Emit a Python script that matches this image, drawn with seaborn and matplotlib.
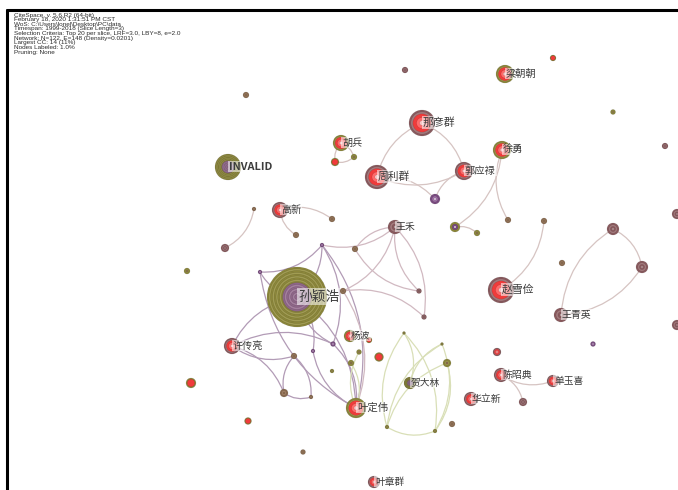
import numpy as np
import pandas as pd
import matplotlib
matplotlib.use("Agg")
import matplotlib.pyplot as plt
import seaborn as sns

# node table: label, position in the CiteSpace canvas, node radius, ring class
node_labels = ["梁朝朝", "那彦群", "胡兵", "INVALID", "周利群", "郭应禄", "徐勇", "高新",
               "王禾", "孙颖浩", "杨波", "许传亮", "贺大林", "叶定伟", "华立新", "陈昭典",
               "单玉喜", "王青英", "赵雪俭", "叶章群"] + [""] * 50
node_x = [505, 422, 341, 228, 377, 464, 502, 280, 395, 297, 350, 232, 410, 356, 471, 501,
          553, 561, 501, 374,
          405, 553, 613, 665, 246, 335, 354, 435, 254, 332, 296, 225, 187, 455, 477, 508,
          544, 613, 642, 562, 677, 677, 497, 593, 523, 447, 322, 260, 355, 343, 419, 424,
          369, 379, 359, 351, 333, 313, 294, 332, 284, 311, 191, 248, 303, 452, 387, 435,
          404, 442]
node_y = [74, 123, 143, 167, 177, 171, 150, 210, 227, 297, 336, 346, 383, 408, 399, 375,
          381, 315, 290, 482,
          70, 58, 112, 146, 95, 162, 157, 199, 209, 219, 235, 248, 271, 227, 233, 220,
          221, 229, 267, 263, 214, 325, 352, 344, 402, 363, 245, 272, 249, 291, 291, 317,
          340, 357, 352, 363, 344, 351, 356, 371, 393, 397, 383, 421, 452, 424, 427, 431,
          333, 344]
node_r = [9, 13, 8, 13, 12, 9, 9, 8, 7, 30, 6, 8, 6, 10, 7, 7, 6, 7, 13, 6,
          3, 3, 2.5, 3, 3, 4, 3, 5, 2, 3, 3, 4, 3, 5, 3, 3,
          3, 6, 6, 3, 5, 5, 4, 2.5, 4, 4, 2, 2, 3, 3, 2.5, 2.5,
          3, 4.5, 2.5, 3, 2.5, 2, 3, 2, 4, 2, 5, 3.5, 2.5, 3, 2, 2,
          1.5, 1.5]
node_ring = ["OR", "MR", "OR", "OM", "MR", "MR", "OR", "MR", "M", "OM", "OR", "MR", "OM",
             "OR", "MR", "MR", "MR", "M", "MR", "MR",
             "M", "R", "O", "M", "B", "R", "O", "P", "B", "B", "B", "M", "O", "OP", "O", "B",
             "B", "M", "M", "B", "M", "M", "MR", "P", "M", "O", "P", "P", "B", "B", "M", "M",
             "R", "R", "O", "O", "P", "P", "B", "O", "B", "B", "R", "R", "B", "B", "O", "O",
             "O", "O"]

# co-authorship links (node index pairs) and the cluster they belong to
edge_src = [1, 1, 4, 4, 5, 6, 6, 33, 2, 2, 25, 7, 7, 28, 18, 17, 17, 37, 15, 15,
            9, 9, 47, 9, 9, 9, 9, 46, 47, 46, 11, 11, 58, 58, 60, 11, 57, 56,
            8, 8, 8, 8, 48, 49, 46, 49,
            12, 12, 45, 45, 68, 69, 66, 68, 69, 13, 13]
edge_dst = [4, 5, 5, 27, 27, 33, 35, 34, 25, 26, 26, 29, 30, 31, 36, 37, 38, 38, 16, 44,
            46, 47, 46, 13, 11, 57, 56, 56, 13, 13, 58, 56, 60, 61, 61, 60, 13, 13,
            48, 49, 50, 51, 50, 51, 8, 13,
            68, 69, 66, 67, 66, 67, 67, 67, 66, 54, 55]
edge_group = ["b"] * 20 + ["p"] * 18 + ["m"] * 8 + ["g"] * 11

header_lines = [
    "CiteSpace, v. 5.6.R2 (64-bit)",
    "February 18, 2020 1:31:51 PM CST",
    "WoS: C:\\Users\\lonel\\Desktop\\PC\\data",
    "Timespan: 1999-2018 (Slice Length=3)",
    "Selection Criteria: Top 20 per slice, LRF=3.0, LBY=8, e=2.0",
    "Network: N=122, E=148 (Density=0.0201)",
    "Largest CC: 14 (11%)",
    "Nodes Labeled: 1.0%",
    "Pruning: None",
]

olive, olive2 = "#8C873A", "#A19C52"
mauve, mauve2 = "#8A5A5E", "#A2787B"
brown, brown2 = "#8B6B4F", "#AA886B"
red, red2, pink = "#F03B3B", "#FF6A6A", "#F8C4C4"
purple, purple2 = "#7A4B80", "#9D70A3"

ring_styles = {
    "OR": [(1.0, olive), (0.86, olive2), (0.74, red), (0.45, red2), (0.2, pink)],
    "MR": [(1.0, mauve), (0.86, mauve2), (0.7, red), (0.42, red2), (0.18, pink)],
    "M": [(1.0, mauve), (0.72, mauve2), (0.42, mauve), (0.12, "#F2E6E6")],
    "O": [(1.0, olive), (0.6, olive2), (0.3, brown)],
    "B": [(1.0, brown), (0.6, brown2), (0.3, brown)],
    "P": [(1.0, purple), (0.6, purple2), (0.2, "#F0E6F0")],
    "R": [(1.0, olive), (0.75, red)],
    "OP": [(1.0, olive), (0.6, purple), (0.2, "#F0E6F0")],
    "OM": [(f, olive if k % 2 == 0 else olive2) for k, f in enumerate(np.linspace(1.0, 0.52, 9))]
          + [(f, "#8E6688" if k % 2 == 0 else "#A47E9E") for k, f in enumerate(np.linspace(0.48, 0.08, 7))],
}
edge_colors = {"b": "#D6C4C2", "p": "#B29BB6", "m": "#D1B9C1", "g": "#D9DFB7"}

sns.set_theme(style="white")
plt.rcParams["font.family"] = ["Noto Sans CJK SC", "DejaVu Sans"]

W, H = 678, 490
fig = plt.figure(figsize=(W / 100, H / 100), dpi=100)
fig.patch.set_facecolor("white")
ax = fig.add_axes([0, 0, 1, 1])
ax.set_xlim(0, W)
ax.set_ylim(H, 0)
ax.axis("off")

# links as gentle arcs
for i, (a, b, g) in enumerate(zip(edge_src, edge_dst, edge_group)):
    rad = 0.25 if i % 2 == 0 else -0.25
    ax.annotate("", xy=(node_x[b], node_y[b]), xytext=(node_x[a], node_y[a]),
                arrowprops=dict(arrowstyle="-", color=edge_colors[g], lw=0.9,
                                connectionstyle=f"arc3,rad={rad}", shrinkA=0, shrinkB=0),
                zorder=1)

# nodes as concentric tree rings, outermost layer first
rows = []
for i in range(len(node_x)):
    for depth, (frac, col) in enumerate(ring_styles[node_ring[i]]):
        rows.append(dict(x=node_x[i], y=node_y[i], s=(2 * node_r[i] * frac * 0.72) ** 2,
                         color=col, depth=depth))
layers = pd.DataFrame(rows)
smax = layers["s"].max()
pal = {c: c for c in layers["color"].unique()}
for depth, sub in layers.groupby("depth"):
    sns.scatterplot(data=sub, x="x", y="y", hue="color", palette=pal, size="s",
                    sizes=(0, smax), size_norm=(0, smax), legend=False, ax=ax,
                    linewidth=0.3, edgecolor=(0, 0, 0, 0.2), zorder=3 + depth)

# node labels
for lab, x, y, r in zip(node_labels, node_x, node_y, node_r):
    if not lab:
        continue
    fs = 6.3 + 0.12 * r
    weight = "bold" if lab == "INVALID" else "normal"
    ax.text(x + 1, y - 0.5, lab, fontsize=fs, color="#3C3C3C", fontweight=weight,
            ha="left", va="center", zorder=40,
            bbox=dict(boxstyle="square,pad=0.08", fc="white", ec="none", alpha=0.55))

# canvas frame and the CiteSpace summary header
ax.plot([7, 7], [10, H], color="black", lw=2.2, zorder=50)
ax.plot([7, W], [10, 10], color="black", lw=2.2, zorder=50)
for k, line in enumerate(header_lines):
    ax.text(14, 15 + k * 4.65, line, fontsize=4.6, family="Liberation Sans",
            color="#2B2B2B", va="center", zorder=50)

ax.set_xlim(0, W)
ax.set_ylim(H, 0)
fig.savefig("out.png", dpi=100)
